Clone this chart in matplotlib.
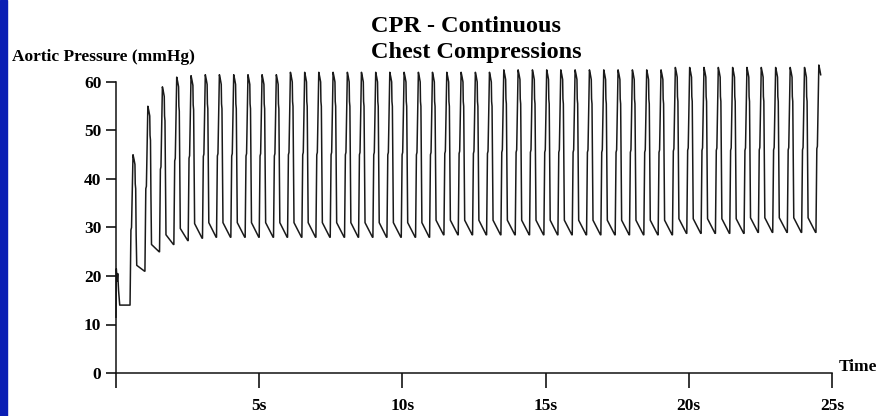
import numpy as np
import matplotlib
matplotlib.use("Agg")
import matplotlib.pyplot as plt
from matplotlib.patches import Rectangle

# values (time in s, pressure in mmHg)
pre_t = [0.0, 0.01, 0.04, 0.06, 0.09, 0.13, 0.49]
pre_p = [11.5, 21.5, 19.0, 20.5, 17.0, 14.0, 14.0]

beat_onset = [0.49, 1.01, 1.52, 2.02, 2.52, 3.02, 3.51, 4.01, 4.51, 5.00,
              5.50, 5.99, 6.49, 6.98, 7.48, 7.98, 8.47, 8.97, 9.46, 9.96,
              10.46, 10.95, 11.45, 11.95, 12.45, 12.94, 13.44, 13.94, 14.44, 14.94,
              15.43, 15.93, 16.43, 16.93, 17.43, 17.93, 18.43, 18.93, 19.43, 19.93,
              20.43, 20.93, 21.43, 21.93, 22.43, 22.93, 23.44, 23.94, 24.44]
beat_peak = [45.0, 55.0, 59.0, 61.0, 61.3, 61.5, 61.5, 61.5, 61.5, 61.5,
             61.5, 62.0, 62.0, 62.0, 62.0, 62.0, 62.0, 62.0, 62.0, 62.0,
             62.0, 62.0, 62.0, 62.0, 62.0, 62.0, 62.5, 62.5, 62.5, 62.5,
             62.5, 62.5, 62.5, 62.5, 62.5, 62.5, 62.5, 62.5, 63.0, 63.0,
             63.0, 63.0, 63.0, 63.0, 63.0, 63.0, 63.0, 63.0, 63.5]
beat_trough = [21.0, 25.0, 26.5, 27.3, 27.8, 28.0, 28.0, 28.0, 28.0, 28.0,
               28.0, 28.0, 28.0, 28.0, 28.0, 28.0, 28.0, 28.0, 28.0, 28.0,
               28.0, 28.5, 28.5, 28.5, 28.5, 28.5, 28.5, 28.5, 28.5, 28.5,
               28.5, 28.5, 28.5, 28.5, 28.5, 28.5, 28.5, 28.5, 28.8, 28.8,
               28.8, 28.8, 28.8, 29.0, 29.0, 29.0, 29.0, 29.0]
beat_drop = [1.2, 1.5, 2.0, 2.5, 3.0, 3.0, 3.0, 3.0, 3.0, 3.0,
             3.0, 3.0, 3.0, 3.0, 3.0, 3.0, 3.0, 3.0, 3.0, 3.0,
             3.0, 3.0, 3.0, 3.0, 3.0, 3.0, 3.0, 3.0, 3.0, 3.0,
             3.0, 3.0, 3.0, 3.0, 3.0, 3.0, 3.0, 3.0, 3.0, 3.0,
             3.0, 3.0, 3.0, 3.0, 3.0, 3.0, 3.0, 3.0]

x_ticks = [0, 5, 10, 15, 20, 25]
x_labels = ["", "5s", "10s", "15s", "20s", "25s"]
y_ticks = [0, 10, 20, 30, 40, 50, 60]

# build the trace, one compression cycle at a time
t = list(pre_t)
p = list(pre_p)
start = pre_p[-1]
for i, t0 in enumerate(beat_onset):
    pk = beat_peak[i]
    mid = start + 0.5 * (pk - start)
    if i + 1 < len(beat_onset):
        T = beat_onset[i + 1] - t0
    else:
        T = 0.5
    # upstroke with small steps, little hook at the top
    rise = [(0.0, start), (0.06, mid), (0.10, mid + 0.5), (0.16, pk - 6),
            (0.20, pk), (0.27, pk - 1.0), (0.33, pk - 2.0)]
    for f, v in rise:
        t.append(t0 + f * T)
        p.append(v)
    if i >= len(beat_trough):
        break
    end = beat_trough[i]
    # release: near vertical fall then a sloping decay into the next one
    fall = [(0.35, pk - 6), (0.38, pk - 7), (0.41, mid - 1),
            (0.45, end + beat_drop[i]), (0.97, end)]
    for f, v in fall:
        t.append(t0 + f * T)
        p.append(v)
    start = end

serif = "Liberation Serif"

fig = plt.figure(figsize=(8.79, 4.16), dpi=100)
fig.patches.append(Rectangle((0, 0), 7 / 879, 1, transform=fig.transFigure,
                             color="#0a1eb4", zorder=0))

ax = fig.add_axes([116 / 879, 43 / 416, 716 / 879, 315.25 / 416])
ax.plot(t, p, color="#1a1a1a", lw=1.1, clip_on=False)
ax.set_xlim(0, 25)
ax.set_ylim(0, 65)

for s in ["top", "right"]:
    ax.spines[s].set_visible(False)
ax.spines["left"].set_bounds(0, 60)
ax.spines["bottom"].set_bounds(0, 25)
for s in ["left", "bottom"]:
    ax.spines[s].set_linewidth(1.1)
    ax.spines[s].set_color("#111111")

ax.set_xticks(x_ticks)
ax.set_xticklabels(x_labels)
ax.set_yticks(y_ticks)
ax.tick_params(axis="x", length=11, width=1.1, pad=7)
ax.tick_params(axis="y", length=7, width=1.1, pad=3.5)
for lab in ax.get_xticklabels() + ax.get_yticklabels():
    lab.set_fontfamily(serif)
    lab.set_fontweight("bold")
    lab.set_fontsize(12.5)

ax.text(25.25, 1.3, "Time", ha="left", va="center", fontfamily=serif,
        fontweight="bold", fontsize=12.5)

fig.text(12 / 879, 1 - 61 / 416, "Aortic Pressure (mmHg)", ha="left",
         va="baseline", fontfamily=serif, fontweight="bold", fontsize=12.5)
fig.text(371 / 879, 1 - 32 / 416, "CPR - Continuous", ha="left",
         va="baseline", fontfamily=serif, fontweight="bold", fontsize=17.5)
fig.text(371 / 879, 1 - 58 / 416, "Chest Compressions", ha="left",
         va="baseline", fontfamily=serif, fontweight="bold", fontsize=17.5)

fig.savefig("out.png", dpi=100)
